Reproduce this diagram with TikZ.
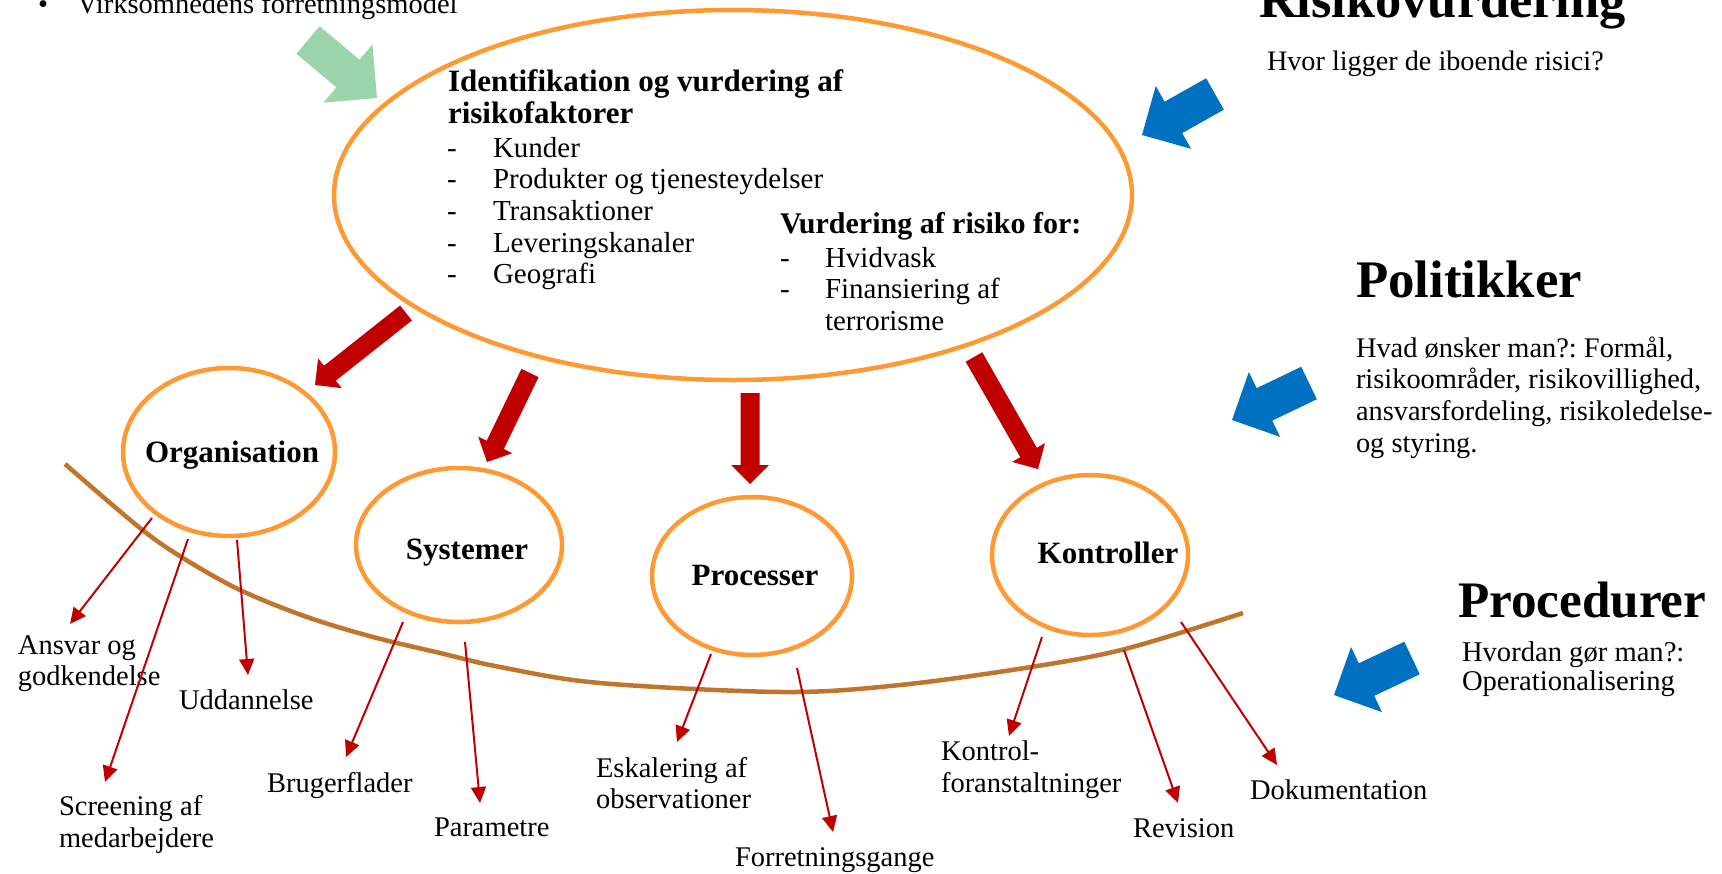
\documentclass[tikz,border=0pt]{standalone}
\usepackage{fontspec}
\setmainfont{Liberation Serif}
\usetikzlibrary{shapes.geometric,arrows.meta,calc}
\definecolor{orng}{RGB}{255,153,51}
\definecolor{redd}{RGB}{192,0,0}
\definecolor{blu}{RGB}{0,112,192}
\definecolor{grn}{RGB}{155,211,170}
\definecolor{brwn}{RGB}{192,117,44}
\newcommand\fsz[1]{\fontsize{#1}{#1}\selectfont}
% #1 tail, #2 tip, #3 half shaft, #4 half head, #5 head length, #6 style
\newcommand\mkblockarrow[6]{%
  \coordinate (ba-h) at ($(#2)!#5!(#1)$);
  \fill[#6] ($(#1)!#3!90:(#2)$) -- ($(ba-h)!#3!-90:(#1)$) -- ($(ba-h)!#4!-90:(#1)$)
    -- (#2) -- ($(ba-h)!#4!90:(#1)$) -- ($(ba-h)!#3!90:(#1)$) -- ($(#1)!#3!-90:(#2)$) -- cycle;
}
\frenchspacing
\begin{document}
\begin{tikzpicture}[x=0.5pt,y=-0.5pt,
  ell/.style={draw=orng, line width=2.25pt, ellipse, inner sep=0pt, outer sep=0pt},
  txt/.style={inner sep=0pt, outer sep=0pt, anchor=base west, font=\fsz{14.25}},
  btxt/.style={inner sep=0pt, outer sep=0pt, anchor=base, font=\bfseries\fsz{15.5}},
  htxt/.style={inner sep=0pt, outer sep=0pt, anchor=base west, font=\bfseries\fsz{15.5}},
  thin/.style={draw=redd, line width=1pt, -{Triangle[width=7.5pt,length=8pt]}},
  redblk/.style={fill=redd},
  blublk/.style={fill=blu},
  grnblk/.style={fill=grn}]
\fill[white] (0,0) rectangle (1722,873);
\useasboundingbox (0,0) rectangle (1722,873);

% brown boundary curve
\draw[brwn, line width=2.25pt] plot[smooth, tension=0.55] coordinates
  {(65,464) (140,528) (183,558) (240,590) (307,617) (373,637) (440,653) (500,667) (600,683) (783,692) (900,685) (1031,667) (1125,649) (1243,613)};

% ellipses
\node[ell, minimum width=399pt, minimum height=185pt] (main) at (733,195) {};
\node[ell, minimum width=106pt, minimum height=84pt] (org) at (229,452) {};
\node[ell, minimum width=103pt, minimum height=77pt] (sys) at (459,545) {};
\node[ell, minimum width=100pt, minimum height=79pt] (proc) at (752,576) {};
\node[ell, minimum width=98pt, minimum height=80pt] (kon) at (1090,555) {};

% texts in main ellipse
\node[htxt] (h1) at (448,91) {Identifikation og vurdering af};
\node[htxt] (h2) at (448,123) {risikofaktorer};
\foreach \y/\t [count=\i] in {157/Kunder,188/Produkter og tjenesteydelser,220/Transaktioner,252/Leveringskanaler,283/Geografi}{
  \node[txt, font=\fsz{14.5}] (d\i) at (447,\y) {-};
  \node[txt, font=\fsz{14.5}] (it\i) at (493,\y) {\t};
}
\node[htxt, font=\bfseries\fsz{15}] (vh) at (780,233) {Vurdering af risiko for:};
\node[txt, font=\fsz{14.5}] (vd1) at (780,267) {-};
\node[txt, font=\fsz{14.5}] (vi1) at (825,267) {Hvidvask};
\node[txt, font=\fsz{14.5}] (vd2) at (780,298) {-};
\node[txt, font=\fsz{14.5}] (vi2) at (825,298) {Finansiering af};
\node[txt, font=\fsz{14.5}] (vi3) at (825,330) {terrorisme};

% labels of small ellipses
\node[btxt] (torg) at (232,462) {Organisation};
\node[btxt] (tsys) at (467,559) {Systemer};
\node[btxt] (tproc) at (755,585) {Processer};
\node[btxt] (tkon) at (1108,563) {Kontroller};

% top left text
\node[txt] (bul) at (38,13) {•};
\node[txt] (vfm) at (77,13) {Virksomhedens forretningsmodel};

% right texts
\node[txt, font=\bfseries\fsz{26.2}] (rv) at (1259,17) {Risikovurdering};
\node[txt, font=\fsz{14.1}] (rvq) at (1267,70) {Hvor ligger de iboende risici?};
\node[txt, font=\bfseries\fsz{26.4}] (pol) at (1356,297) {Politikker};
\node[txt, font=\fsz{14.2}] (p1) at (1356,357) {Hvad ønsker man?: Formål,};
\node[txt, font=\fsz{14.2}] (p2) at (1356,388) {risikoområder, risikovillighed,};
\node[txt, font=\fsz{14.2}] (p3) at (1356,420) {ansvarsfordeling, risikoledelse-};
\node[txt, font=\fsz{14.2}] (p4) at (1356,452) {og styring.};
\node[txt, font=\bfseries\fsz{25.6}] (pro) at (1458,617) {Procedurer};
\node[txt, font=\fsz{14.3}] (pr1) at (1462,661) {Hvordan gør man?:};
\node[txt, font=\fsz{14.3}] (pr2) at (1462,690) {Operationalisering};

% bottom labels
\node[txt] (l1a) at (18,654) {Ansvar og};
\node[txt] (l1b) at (18,685) {godkendelse};
\node[txt] (l2) at (179,709) {Uddannelse};
\node[txt] (l3a) at (59,815) {Screening af};
\node[txt] (l3b) at (59,847) {medarbejdere};
\node[txt] (l4) at (267,792) {Brugerflader};
\node[txt] (l5) at (434,836) {Parametre};
\node[txt] (l6a) at (596,777) {Eskalering af};
\node[txt] (l6b) at (596,808) {observationer};
\node[txt] (l7) at (735,866) {Forretningsgange};
\node[txt] (l8a) at (941,760) {Kontrol-};
\node[txt] (l8b) at (941,792) {foranstaltninger};
\node[txt] (l9) at (1133,837) {Revision};
\node[txt] (l10) at (1250,799) {Dokumentation};

% thin red arrows
\coordinate (s1) at (152,518); \coordinate (e1) at (70,624);
\coordinate (s2) at (188,539); \coordinate (e2) at (105,782);
\coordinate (s3) at (237,540); \coordinate (e3) at (248,675);
\coordinate (s4) at (403,622); \coordinate (e4) at (346,757);
\coordinate (s5) at (465,642); \coordinate (e5) at (480,803);
\coordinate (s6) at (711,654); \coordinate (e6) at (677,742);
\coordinate (s7) at (797,668); \coordinate (e7) at (833,832);
\coordinate (s8) at (1042,637); \coordinate (e8) at (1009,736);
\coordinate (s9) at (1124,650); \coordinate (e9) at (1178,803);
\coordinate (s10) at (1181,622); \coordinate (e10) at (1277,765);
\foreach \i in {1,...,10}{ \draw[thin] (s\i) -- (e\i); }

% big red block arrows
\coordinate (ra1) at (406,313); \coordinate (rb1) at (315,385);
\coordinate (ra2) at (530,373); \coordinate (rb2) at (487,462);
\coordinate (ra3) at (750,393); \coordinate (rb3) at (750,484);
\coordinate (ra4) at (974,357); \coordinate (rb4) at (1038,469);
\foreach \i in {1,...,4}{ \mkblockarrow{ra\i}{rb\i}{4.75pt}{9.5pt}{9.5pt}{redblk} }

% blue and green block arrows
\coordinate (ba1) at (1215,94);  \coordinate (bb1) at (1142,135);
\coordinate (ba2) at (1309,383); \coordinate (bb2) at (1232,420);
\coordinate (ba3) at (1412,658); \coordinate (bb3) at (1334,695);
\foreach \i in {1,2,3}{ \mkblockarrow{ba\i}{bb\i}{9pt}{18pt}{18pt}{blublk} }
\coordinate (ga) at (308,40); \coordinate (gb) at (377,98);
\mkblockarrow{ga}{gb}{9pt}{19pt}{19pt}{grnblk}
\end{tikzpicture}
\end{document}
